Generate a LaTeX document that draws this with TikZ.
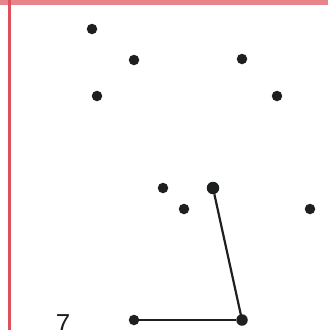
\documentclass[tikz,border=0pt]{standalone}
\usepackage{fontspec}
\setmainfont{Liberation Sans}
\definecolor{frame}{RGB}{222,80,90}
\definecolor{dotc}{RGB}{30,32,32}
\begin{document}
\begin{tikzpicture}[x=1pt,y=-1pt,
  dot/.style={circle,fill=dotc,inner sep=0pt,minimum size=10.5pt},
  edge/.style={draw=dotc,line width=2.2pt}]
\useasboundingbox (0,0) rectangle (328,330);
\fill[white] (0,0) rectangle (328,330);
\fill[frame!70] (0,0) rectangle (328,5);
\fill[frame] (8,0) rectangle (11,330);
\begin{scope}
\clip (0,0) rectangle (328,330);
\node[dot] (a) at (92,29) {};
\node[dot] (b) at (134,60) {};
\node[dot] (c) at (242,59) {};
\node[dot] (d) at (97,96) {};
\node[dot] (e) at (277,96) {};
\node[dot] (f) at (163,188) {};
\node[dot,minimum size=12.5pt] (g) at (213,188) {};
\node[dot] (h) at (184,209) {};
\node[dot] (i) at (310,209) {};
\node[dot] (j) at (134,320) {};
\node[dot,minimum size=11.5pt] (k) at (242,320) {};
\node[dot] (l) at (184,337) {};
\node[dot] (m) at (310,337) {};
\node[text=dotc,font=\fontsize{26}{26}\selectfont,anchor=north] (n) at (63,311) {7};
\draw[edge] (g) -- (k.center);
\draw[edge] (j) -- (k);
\end{scope}
\end{tikzpicture}
\end{document}
